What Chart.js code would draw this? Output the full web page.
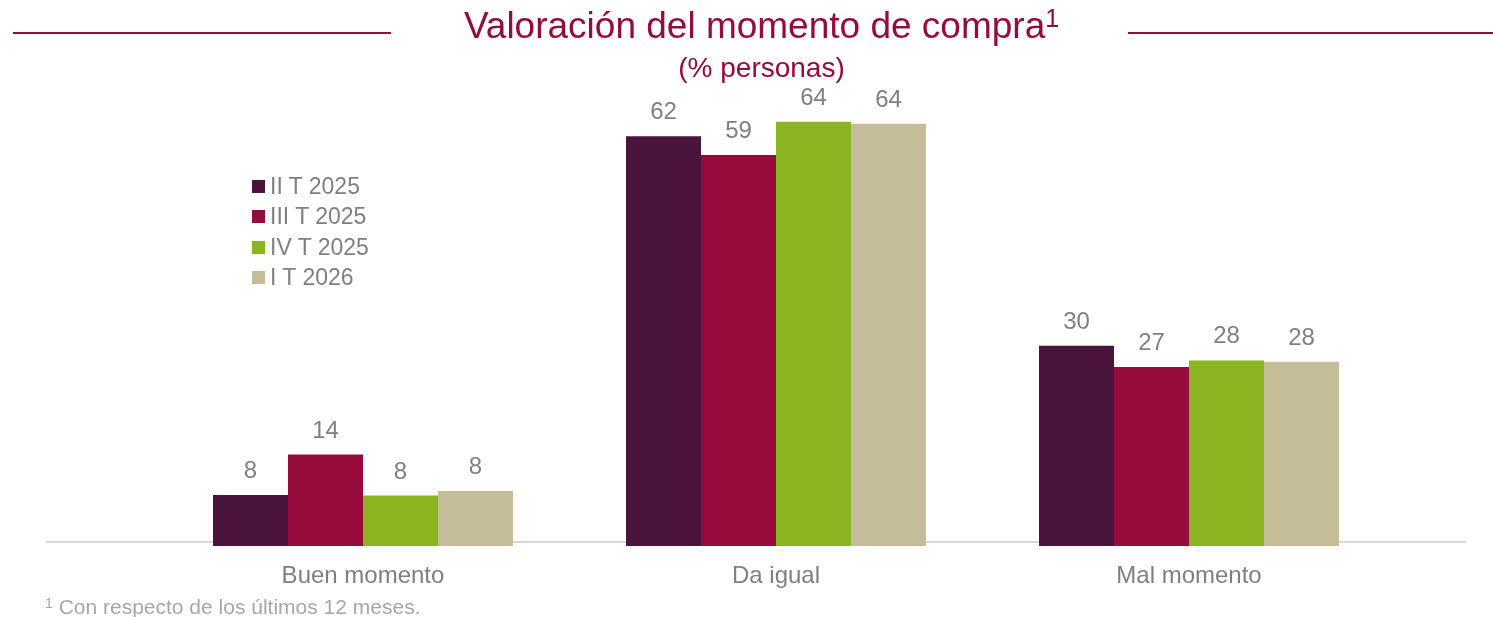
<!DOCTYPE html>
<html lang="es">
<head>
<meta charset="utf-8">
<title>Valoración del momento de compra</title>
<script src="https://cdn.jsdelivr.net/npm/chart.js@4.4.1/dist/chart.umd.min.js"></script>
<style>
  html, body { margin: 0; padding: 0; background: #fff; }
  #wrap { position: relative; width: 1493px; height: 617px; overflow: hidden;
          font-family: "Liberation Sans", Arial, sans-serif; }
  #wrap canvas { position: absolute; left: 0; top: 0; }
  .rule { position: absolute; top: 32px; height: 2px; background: #960a3c; }
  #title { position: absolute; left: 15px; width: 1493px; top: 7px; text-align: center;
           font-size: 37px; line-height: 37px; color: #960a3c; white-space: nowrap; }
  #title span { font-size: 25px; position: relative; top: -11px; line-height: 0; }
  #subtitle { position: absolute; left: 15px; width: 1493px; top: 54px; text-align: center;
              font-size: 28px; line-height: 28px; color: #960a3c; white-space: nowrap; }
  #note { position: absolute; left: 45px; top: 596px; font-size: 21px; line-height: 21px;
          color: #a6a6a6; white-space: nowrap; }
  #note span { font-size: 14px; position: relative; top: -6px; line-height: 0; }
  .leg-box { position: absolute; left: 252px; width: 13px; height: 13px; }
  .leg-txt { position: absolute; left: 270px; font-size: 23px; line-height: 23px; color: #7f7f7f; white-space: nowrap; }
</style>
</head>
<body>
<div id="wrap">
  <canvas id="chart" width="1493" height="617"></canvas>
  <div class="rule" style="left:13px; width:378px;"></div>
  <div class="rule" style="left:1128px; width:365px;"></div>
  <div id="title">Valoración del momento de compra<span>1</span></div>
  <div id="subtitle">(% personas)</div>
  <div id="legend"></div>
  <div id="note"><span>1</span> Con respecto de los últimos 12 meses.</div>
</div>
<script>
// Chart data
const categories = ['Buen momento', 'Da igual', 'Mal momento'];
const seriesNames = ['II T 2025', 'III T 2025', 'IV T 2025', 'I T 2026'];
const q2_2025 = [7.7, 61.8, 30.2];
const q3_2025 = [13.8, 59.0, 27.0];
const q4_2025 = [7.6, 64.0, 28.0];
const q1_2026 = [8.3, 63.7, 27.8];
const seriesColors = ['#4b143c', '#960a3c', '#8ab420', '#c5bd97'];

const FONT = '"Liberation Sans", Arial, sans-serif';
const GREY = '#7f7f7f';

// Legend (left, top)
function renderLegend() {
    const host = document.getElementById('legend');
    seriesNames.forEach((name, i) => {
        const cy = 186 + i * 30.5;
        const box = document.createElement('div');
        box.className = 'leg-box';
        box.style.top = (cy - 6.5) + 'px';
        box.style.background = seriesColors[i];
        const txt = document.createElement('div');
        txt.className = 'leg-txt';
        txt.style.top = (cy - 11.5) + 'px';
        txt.textContent = name;
        host.appendChild(box);
        host.appendChild(txt);
    });
}

// Baseline line, slightly above the bar bottoms, behind the bars
const axisLine = {
    id: 'axisLine',
    beforeDatasetsDraw(chart) {
        const { ctx, chartArea } = chart;
        const y = chartArea.bottom - 4;
        ctx.save();
        ctx.strokeStyle = '#c8c8c8';
        ctx.lineWidth = 1.5;
        ctx.beginPath();
        ctx.moveTo(chartArea.left - 110.5, y);
        ctx.lineTo(chartArea.right + 70.5, y);
        ctx.stroke();
        ctx.restore();
    }
};

// Value labels above bars
const valueLabels = {
    id: 'valueLabels',
    afterDatasetsDraw(chart) {
        const { ctx } = chart;
        ctx.save();
        ctx.font = '24px ' + FONT;
        ctx.fillStyle = GREY;
        ctx.textAlign = 'center';
        ctx.textBaseline = 'alphabetic';
        chart.data.datasets.forEach((ds, i) => {
            chart.getDatasetMeta(i).data.forEach((bar, j) => {
                ctx.fillText(String(Math.round(ds.data[j])), bar.x, bar.y - 17);
            });
        });
        ctx.restore();
    }
};

const seriesData = [q2_2025, q3_2025, q4_2025, q1_2026];

new Chart(document.getElementById('chart').getContext('2d'), {
    type: 'bar',
    data: {
        labels: categories,
        datasets: seriesNames.map((name, i) => ({
            label: name,
            data: seriesData[i],
            backgroundColor: seriesColors[i],
            borderWidth: 0,
            categoryPercentage: 0.7264,
            barPercentage: 1
        }))
    },
    options: {
        responsive: false,
        animation: false,
        devicePixelRatio: 1,
        layout: { padding: { left: 156.5, right: 97.5, top: 82, bottom: 0 } },
        plugins: {
            legend: { display: false },
            tooltip: { enabled: false }
        },
        scales: {
            x: {
                grid: { display: false },
                border: { display: false },
                ticks: { color: GREY, font: { family: FONT, size: 24 }, padding: 8 },
                afterFit: scale => { scale.height = 71; }
            },
            y: {
                display: false,
                min: 0,
                max: 70
            }
        }
    },
    plugins: [axisLine, valueLabels]
});

renderLegend();
</script>
</body>
</html>
